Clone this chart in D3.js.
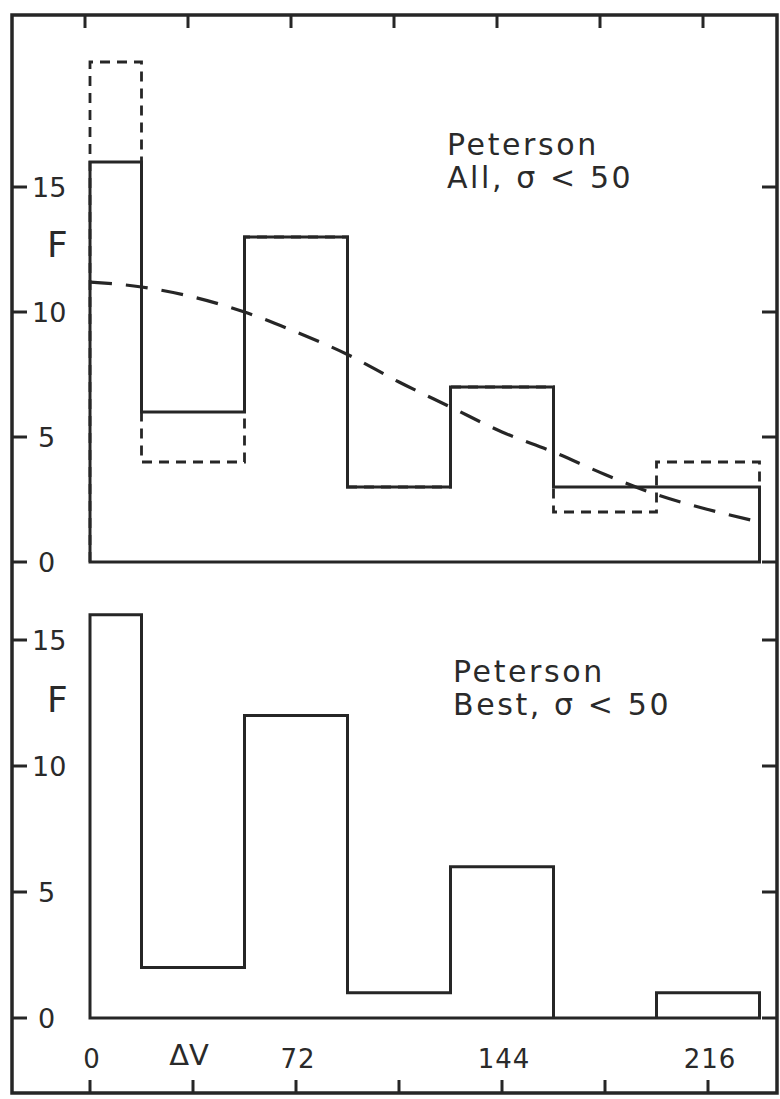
<!DOCTYPE html>
<html>
<head>
<meta charset="utf-8">
<script src="https://cdn.jsdelivr.net/npm/d3@7"></script>
<style>
  body { margin: 0; background: #fff; }
  text { font-family: "DejaVu Sans", sans-serif; fill: #2a2a2a; }
</style>
</head>
<body>
<div id="chart"></div>
<script>

// Bin edges in Delta V
var binEdges = [0, 18, 54, 90, 126, 162, 198, 234];

// Top panel: Peterson All (solid) and the dashed variant
var allSolid = [16, 6, 13, 3, 7, 3, 3];
var allDashed = [20, 4, 13, 3, 7, 2, 4];

// Bottom panel: Peterson Best
var bestSolid = [16, 2, 12, 1, 6, 0, 1];

// Dashed smooth curve
var curveX = [0, 18, 36, 54, 72, 90, 108, 126, 144, 162, 180, 198, 216, 234];
var curveF = [11.2, 11.0, 10.6, 10.0, 9.2, 8.3, 7.2, 6.2, 5.2, 4.4, 3.5, 2.7, 2.1, 1.6];

// Ticks
var xTickMarks = [0, 36, 72, 108, 144, 180, 216];
var xTickLabels = [0, 72, 144, 216];
var yTicks = [0, 5, 10, 15];

var width = 780;
var height = 1099;

// Frame
var frameL = 12, frameT = 15, frameR = 777, frameB = 1093;

var svg = d3
  .select("#chart")
  .append("svg")
  .attr("width", width)
  .attr("height", height);

var ink = "#262626";

var xScale = d3.scaleLinear().domain([0, 216]).range([90, 708]);

var yTop = d3.scaleLinear().domain([0, 15]).range([562, 187]);
var yBot = d3.scaleLinear().domain([0, 15]).range([1018, 640]);

// outer frame
svg.append("rect")
  .attr("x", frameL)
  .attr("y", frameT)
  .attr("width", frameR - frameL)
  .attr("height", frameB - frameT)
  .attr("fill", "none")
  .attr("stroke", ink)
  .attr("stroke-width", 3.5);

// build histogram outline points
function histPoints(vals) {
  var pts = [[binEdges[0], 0]];
  vals.forEach(function(v, i) {
    pts.push([binEdges[i], v]);
  });
  pts.push([binEdges[binEdges.length - 1], 0]);
  return pts;
}

function histLine(yScale) {
  return d3.line()
    .x(function(d) { return xScale(d[0]); })
    .y(function(d) { return yScale(d[1]); })
    .curve(d3.curveStepAfter);
}

// dashed histogram first, then solid on top
svg.append("path")
  .attr("d", histLine(yTop)(histPoints(allDashed)))
  .attr("fill", "none")
  .attr("stroke", ink)
  .attr("stroke-width", 2.8)
  .attr("stroke-dasharray", "10,7");

svg.append("path")
  .attr("d", histLine(yTop)(histPoints(allSolid)) + "Z")
  .attr("fill", "none")
  .attr("stroke", ink)
  .attr("stroke-width", 3);

svg.append("path")
  .attr("d", histLine(yBot)(histPoints(bestSolid)) + "Z")
  .attr("fill", "none")
  .attr("stroke", ink)
  .attr("stroke-width", 3);

// smooth dashed curve
var curveLine = d3.line()
  .x(function(d, i) { return xScale(curveX[i]); })
  .y(function(d) { return yTop(d); })
  .curve(d3.curveMonotoneX);

svg.append("path")
  .attr("d", curveLine(curveF))
  .attr("fill", "none")
  .attr("stroke", ink)
  .attr("stroke-width", 3.2)
  .attr("stroke-dasharray", "22,14");

// left and right y ticks (inward)
function yTickSet(yScale) {
  var g = svg.append("g");
  g.selectAll("line.l")
    .data(yTicks)
    .enter()
    .append("line")
    .attr("x1", frameL)
    .attr("x2", frameL + 15)
    .attr("y1", function(d) { return yScale(d); })
    .attr("y2", function(d) { return yScale(d); })
    .attr("stroke", ink)
    .attr("stroke-width", 3);
  g.selectAll("line.r")
    .data(yTicks)
    .enter()
    .append("line")
    .attr("x1", frameR)
    .attr("x2", frameR - 15)
    .attr("y1", function(d) { return yScale(d); })
    .attr("y2", function(d) { return yScale(d); })
    .attr("stroke", ink)
    .attr("stroke-width", 3);
  g.selectAll("text")
    .data(yTicks)
    .enter()
    .append("text")
    .attr("x", function(d) { return d < 10 ? 38 : 32; })
    .attr("y", function(d) { return yScale(d) + 10; })
    .attr("font-size", "27px")
    .text(function(d) { return d; });
}

yTickSet(yTop);
yTickSet(yBot);

// top and bottom x tick marks
svg.selectAll("line.xt")
  .data(xTickMarks)
  .enter()
  .append("line")
  .attr("x1", function(d) { return xScale(d) - 5; })
  .attr("x2", function(d) { return xScale(d) - 5; })
  .attr("y1", frameT)
  .attr("y2", frameT + 13)
  .attr("stroke", ink)
  .attr("stroke-width", 3);

svg.selectAll("line.xb")
  .data(xTickMarks)
  .enter()
  .append("line")
  .attr("x1", function(d) { return xScale(d); })
  .attr("x2", function(d) { return xScale(d); })
  .attr("y1", frameB)
  .attr("y2", frameB - 13)
  .attr("stroke", ink)
  .attr("stroke-width", 3);

svg.selectAll("text.xl")
  .data(xTickLabels)
  .enter()
  .append("text")
  .attr("x", function(d) { return xScale(d) + 2; })
  .attr("y", 1068)
  .attr("text-anchor", "middle")
  .attr("font-size", "26px")
  .attr("letter-spacing", "1px")
  .text(function(d) { return d; });

// axis titles
svg.append("text")
  .attr("x", 189)
  .attr("y", 1065)
  .attr("text-anchor", "middle")
  .attr("font-size", "29px")
  .text("\u0394V");

svg.append("text")
  .attr("x", 47)
  .attr("y", 257)
  .attr("font-size", "36px")
  .text("F");

svg.append("text")
  .attr("x", 47)
  .attr("y", 712)
  .attr("font-size", "36px")
  .text("F");

// panel labels
function panelLabel(x, y, lines) {
  svg.append("text")
    .attr("x", x)
    .attr("y", y)
    .attr("font-size", "30px")
    .attr("letter-spacing", "2.6px")
    .text(lines[0]);
  svg.append("text")
    .attr("x", x)
    .attr("y", y + 33)
    .attr("font-size", "30px")
    .attr("letter-spacing", "2.6px")
    .text(lines[1]);
}

panelLabel(447, 155, ["Peterson", "All, \u03c3 < 50"]);
panelLabel(453, 682, ["Peterson", "Best, \u03c3 < 50"]);

</script>
</body>
</html>
